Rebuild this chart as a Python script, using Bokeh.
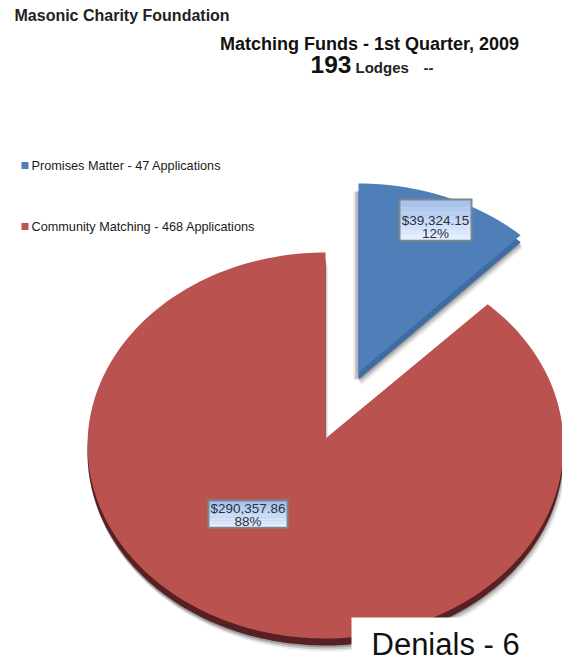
import numpy as np
from bokeh.plotting import figure
from bokeh.models import Range1d
from bokeh.core.properties import value
from bokeh.embed import file_html
from bokeh.resources import INLINE

# ---- data ----
series_names = ["Promises Matter - 47 Applications", "Community Matching - 468 Applications"]
amounts = [39324.15, 290357.86]
amount_labels = ["$39,324.15", "$290,357.86"]
percent_labels = ["12%", "88%"]
colors = ["#4f7fb8", "#ba5250"]
side_colors = ["#3f6ca3", "#572022"]
org_title = "Masonic Charity Foundation"
main_title = "Matching Funds - 1st Quarter, 2009"
lodges_count = "193"
lodges_text = "Lodges"
lodges_tail = "--"
denials_text = "Denials - 6"

FONT = value("Liberation Sans")
W, H = 562, 662
p = figure(width=W, height=H, output_backend="svg", toolbar_location=None,
           x_range=Range1d(0, W), y_range=Range1d(H, 0),
           min_border=0, outline_line_color=None)
p.xaxis.visible = False
p.yaxis.visible = False
p.grid.visible = False
p.background_fill_color = "white"
p.border_fill_color = "white"

RX, RY = 238, 193
total = sum(amounts)
frac0 = amounts[0] / total
split = 2 * np.pi * frac0


def outline(cx, cy, apex_y, a0, a1):
    t = np.linspace(a0, a1, 240)
    xs = cx + RX * np.sin(t)
    ys = cy - RY * np.cos(t)
    return np.r_[cx, xs], np.r_[apex_y, ys]


def wedge(cx, cy, apex_y, a0, a1, color, side, depth):
    x, y = outline(cx, cy, apex_y, a0, a1)
    for k, alpha in ((6, 0.10), (4, 0.20), (2, 0.30)):
        p.patch(x + k * 0.6 - 1, y + depth + k, fill_color="#404040", fill_alpha=alpha, line_color=None)
    p.patch(x, y + depth, fill_color=side, line_color=None)
    p.patch(x, y, fill_color=color, line_color=None)


# exploded blue slice with shadow on its left
bx, by, bapex = 358, 376, 372
xb, yb = outline(bx, by, bapex, 0, split)
for k, alpha in ((5, 0.12), (3, 0.25)):
    p.patch(xb - k, yb + 8, fill_color="#303030", fill_alpha=alpha, line_color=None)
wedge(bx, by, bapex, 0, split, colors[0], side_colors[0], 7)

# red slice
wedge(325, 445, 438, split, 2 * np.pi, colors[1], side_colors[1], 7)


def label_box(x0, x1, y0, y1, y_t1, y_t2, t1, t2, size):
    p.quad(left=x0, right=x1, top=y0, bottom=y1, fill_color="#7c8590", line_color=None)
    n = 8
    top_c = np.array([168, 196, 238])
    bot_c = np.array([228, 238, 255])
    hs = np.linspace(y0 + 2, y1 - 2, n + 1)
    for i in range(n):
        c = top_c + (bot_c - top_c) * i / (n - 1)
        p.quad(left=x0 + 2, right=x1 - 2, top=hs[i], bottom=hs[i + 1] + 0.3,
               fill_color="#%02x%02x%02x" % tuple(int(v) for v in c), line_color=None)
    mid = (x0 + x1) / 2
    p.text([mid], [y_t1], text=[t1], text_font=FONT, text_font_size=size, text_color="#2a3040",
           text_align="center", text_baseline="middle")
    p.text([mid], [y_t2], text=[t2], text_font=FONT, text_font_size=size, text_color="#2a3040",
           text_align="center", text_baseline="middle")


label_box(398, 472, 198, 241, 220, 233, amount_labels[0], percent_labels[0], "13.5px")
label_box(207, 288, 499, 528, 508, 521, amount_labels[1], percent_labels[1], "13.5px")

# legend
for yy, name, col in zip([165, 226], series_names, colors):
    p.quad(left=21, right=28, top=yy - 3.5, bottom=yy + 3.5, fill_color=col, line_color=None)
    p.text([31], [yy], text=[name], text_font=FONT, text_font_size="12.7px", text_color="#1a1a1a",
           text_align="left", text_baseline="middle")

# titles
p.text([14], [15], text=[org_title], text_font=FONT, text_font_size="16px", text_font_style="bold",
       text_color="#222222", text_baseline="middle")
p.text([369], [43], text=[main_title], text_font=FONT, text_font_size="18px", text_font_style="bold",
       text_color="#111111", text_align="center", text_baseline="middle")
p.text([310], [64], text=[lodges_count], text_font=FONT, text_font_size="24.5px", text_font_style="bold",
       text_color="#111111", text_baseline="middle")
p.text([355], [67], text=[lodges_text], text_font=FONT, text_font_size="15px", text_font_style="bold",
       text_color="#222222", text_baseline="middle")
p.text([423], [67], text=[lodges_tail], text_font=FONT, text_font_size="15px", text_font_style="bold",
       text_color="#222222", text_baseline="middle")

# denials box
p.quad(left=351, right=W, top=617, bottom=H, fill_color="white", line_color=None)
p.text([371], [644], text=[denials_text], text_font=FONT, text_font_size="31px", text_color="#111111",
       text_baseline="middle")

open("out.html", "w").write(file_html(p, INLINE))
